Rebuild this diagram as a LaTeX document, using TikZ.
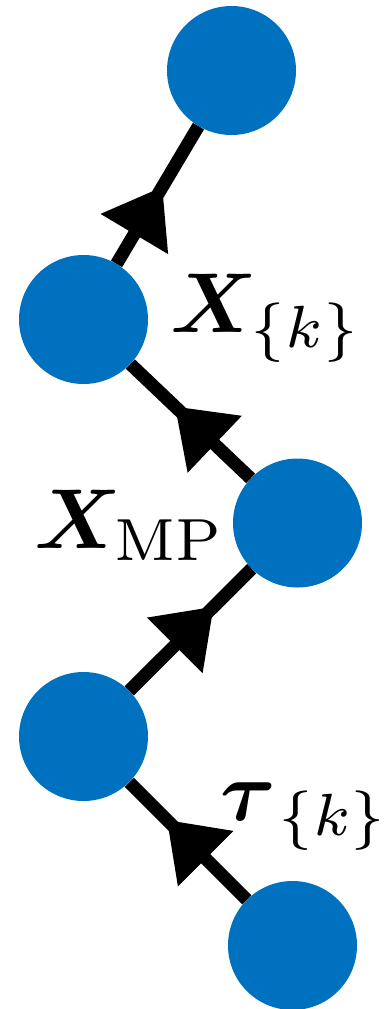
\documentclass[tikz,border=0pt]{standalone}
\usepackage{graphicx}
\usepackage{bm}
\usetikzlibrary{arrows.meta,decorations.markings}
\definecolor{mblue}{RGB}{0,113,190}
\newcommand{\hugemath}[1]{\scalebox{8.5}{$#1$}}
\begin{document}
\begin{tikzpicture}[x=1pt,y=-1pt,
  dot/.style={circle, fill=mblue, minimum size=129pt, inner sep=0pt},
  flow/.style={line width=13pt, postaction=decorate,
    decoration={markings, mark=at position #1 with {\arrow{Triangle[length=55pt,width=75pt]}}}},
  lbl/.style={anchor=base west, inner sep=0pt}]
\useasboundingbox (0,0) rectangle (387,1009);
\node[dot] (n1) at (231.5,70.5) {};
\node[dot] (n2) at (83.5,319.5) {};
\node[dot] (n3) at (297.5,523) {};
\node[dot] (n4) at (83.5,736.5) {};
\node[dot] (n5) at (292.5,945.5) {};
\draw[flow=0.56] (n2) -- (n1);
\draw[flow=0.63] (n3) -- (n2);
\draw[flow=0.69] (n4) -- (n3);
\draw[flow=0.68] (n5) -- (n4);
\node[lbl] (l1) at (170,332) {\hugemath{\bm{X}_{\{k\}}}};
\node[lbl] (l2) at (34,548) {\hugemath{\bm{X}_{\mathrm{MP}}}};
\node[lbl] (l3) at (220,820) {\hugemath{{\bm{\tau}\mkern0.5mu}_{\{k\}}}};
\end{tikzpicture}
\end{document}
